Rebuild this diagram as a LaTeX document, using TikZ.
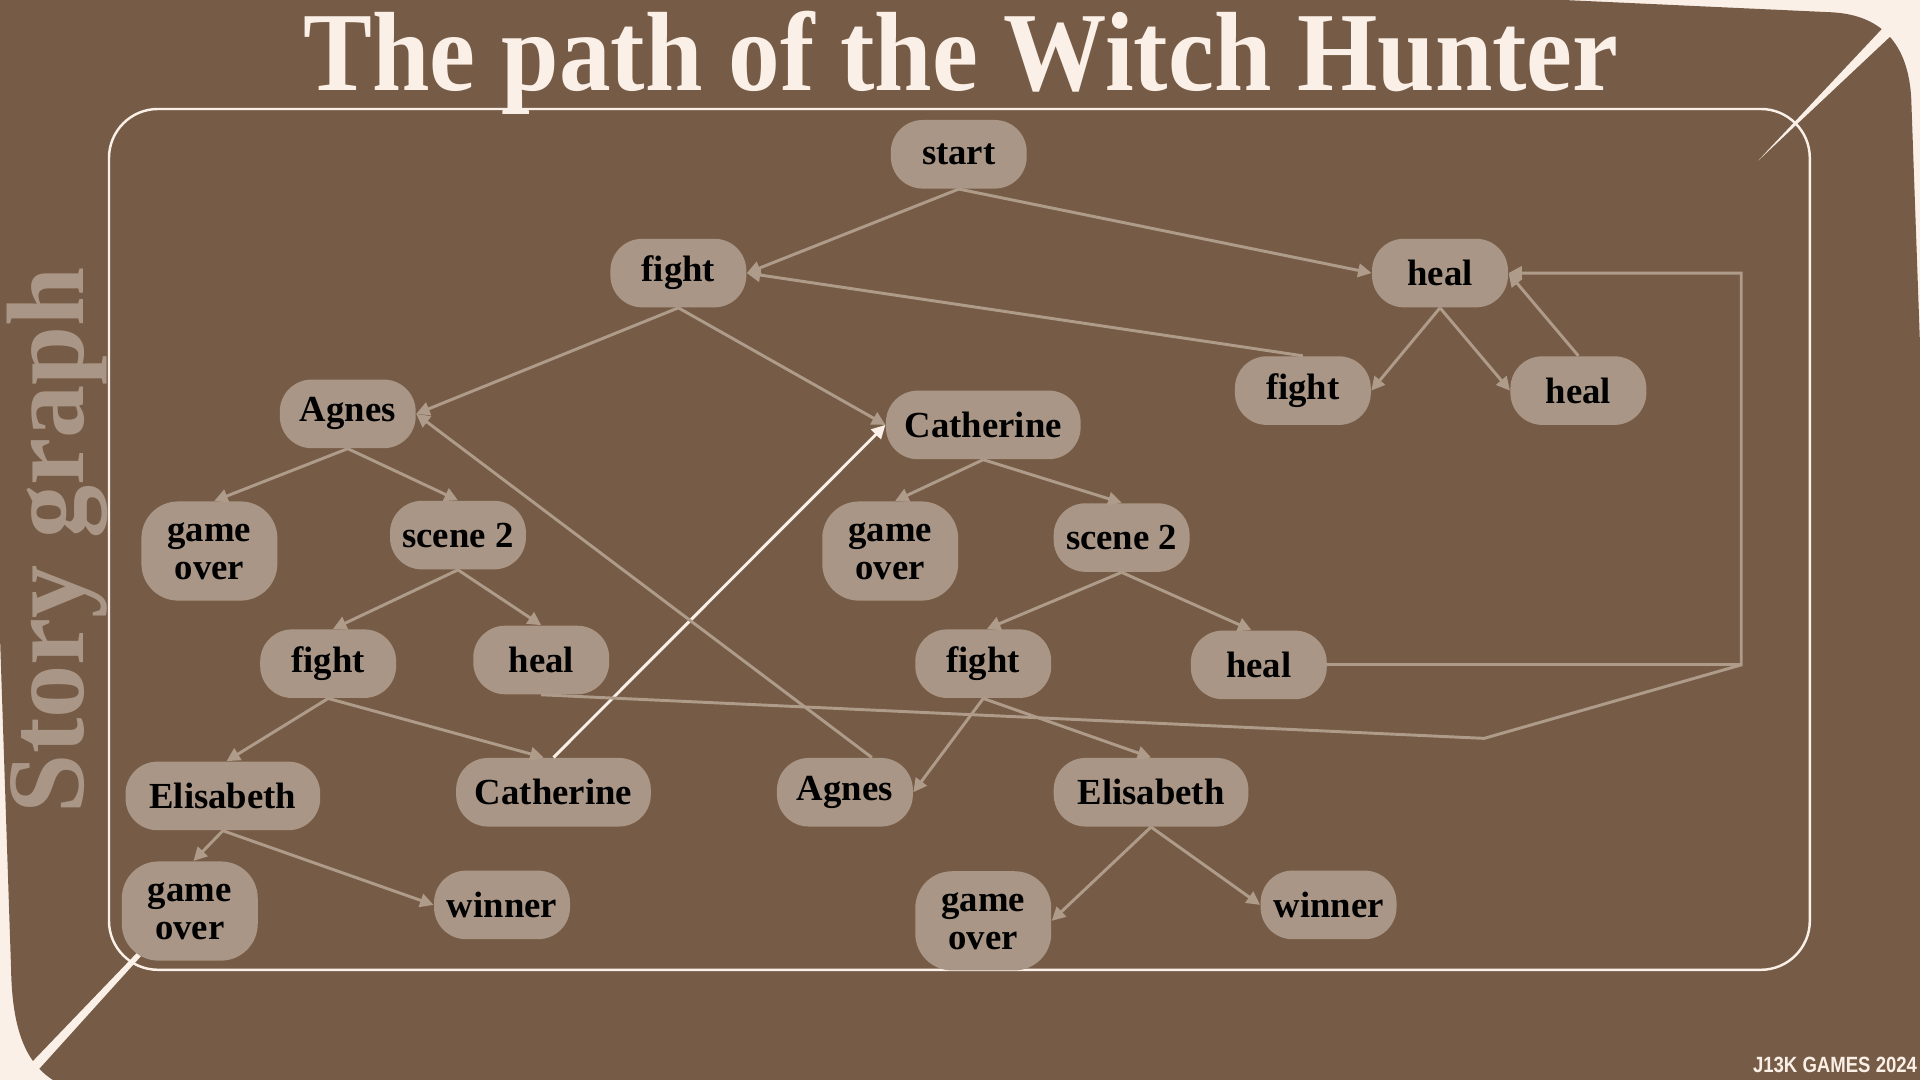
\documentclass[tikz,border=0pt]{standalone}
\usepackage{fontspec}
\setmainfont{Liberation Serif}
\newfontfamily\footfont{Liberation Sans}
\usetikzlibrary{arrows.meta,calc}
\definecolor{bgbrown}{HTML}{765C46}
\definecolor{cream}{HTML}{FBF0E8}
\definecolor{nodefill}{HTML}{A99686}
\definecolor{edgecol}{HTML}{AE9B8A}
\begin{document}
\begin{tikzpicture}[x=0.5pt,y=-0.5pt,
  box/.style={fill=nodefill, rounded corners=13pt, minimum width=55.5pt, minimum height=28pt,
    inner sep=0pt, font=\fontsize{15}{15.5}\selectfont\bfseries, text=black, align=center},
  wide/.style={minimum width=79.5pt},
  tall/.style={minimum height=40.5pt, rounded corners=15pt},
  plainline/.style={draw=edgecol, line width=1.2pt},
  edge/.style={plainline, -{Triangle[length=5.5pt,width=5.5pt]}},
  whiteedge/.style={draw=cream, line width=1.2pt, -{Triangle[length=5.5pt,width=5.5pt]}}
]
\useasboundingbox (0,0) rectangle (1568,882);
\clip (0,0) rectangle (1568,882);
% background
\fill[cream] (0,0) rectangle (1568,882);
\fill[bgbrown] (-30,-60) -- (1495,10) .. controls (1540,12) and (1560,40) .. (1561,85)
  -- (1590,900) -- (60,890) .. controls (25,878) and (10,850) .. (9,790)
  -- (0,520) -- (-20,-60) -- cycle;
% decorative stripes
\fill[cream] (1436,131) -- (1546.5,13.5) -- (1553.5,20.5) -- cycle;
\fill[cream] (112,778) -- (115,781) -- (21,885) -- (15,879) -- cycle;
% frame
\draw[cream, line width=1pt, rounded corners=20pt] (89,89) rectangle (1478,792);
% title and side texts
\node[text=cream, anchor=base, inner sep=0pt] (title) at (785,74)
  {\resizebox{537pt}{\height}{\fontsize{46}{47}\selectfont\bfseries The path of the Witch Hunter}};
\node[text=nodefill, anchor=base, rotate=90, inner sep=0pt] (side) at (68,441)
  {\resizebox{223pt}{\height}{\fontsize{45}{46}\selectfont\bfseries Story graph}};
\node[text=cream, anchor=base east, inner sep=0pt] (foot) at (1566,876)
  {\resizebox{67pt}{\height}{\footfont\fontsize{9}{9}\selectfont\bfseries J13K GAMES 2024}};
% nodes
\node[box] (start) at (783,126) {start};
\node[box] (fight1) at (554,223) {fight};
\node[box] (heal1) at (1176,223) {heal};
\node[box] (fight2) at (1064,319) {fight};
\node[box] (heal2) at (1289,319) {heal};
\node[box] (agnes1) at (284,338) {Agnes};
\node[box,wide] (cath1) at (803,347) {Catherine};
\node[box,tall] (go1) at (171,450) {game\\over};
\node[box] (scA) at (374,437) {scene 2};
\node[box,tall] (go2) at (727,450) {game\\over};
\node[box] (scB) at (916,439) {scene 2};
\node[box] (fightA) at (268,542) {fight};
\node[box] (healA) at (442,539) {heal};
\node[box] (fightB) at (803,542) {fight};
\node[box] (healB) at (1028,543) {heal};
\node[box,wide] (elisA) at (182,650) {Elisabeth};
\node[box,wide] (cathA) at (452,647) {Catherine};
\node[box] (agnesB) at (690,647) {Agnes};
\node[box,wide] (elisB) at (940,647) {Elisabeth};
\node[box,tall] (go3) at (155,744) {game\\over};
\node[box] (winA) at (410,739) {winner};
\node[box,tall] (go4) at (803,752) {game\\over};
\node[box] (winB) at (1085,739) {winner};
% connectors
\coordinate (k1) at (1212,603);
\coordinate (k2) at (1422,543);
\coordinate (k3) at (1422,223);
\draw[edge] (start.south) -- (fight1.east);
\draw[edge] (start.south) -- (heal1.west);
\draw[edge] (fight2.north) -- (fight1.east);
\draw[edge] (heal1.south) -- (fight2.east);
\draw[edge] (heal1.south) -- (heal2.west);
\draw[edge] (heal2.north) -- (heal1.east);
\draw[edge] (fight1.south) -- (agnes1.east);
\draw[edge] (fight1.south) -- (cath1.west);
\draw[edge] (agnes1.south) -- ($(go1.north)+(4,0)$);
\draw[edge] (agnes1.south) -- (scA.north);
\draw[edge] (cath1.south) -- ($(go2.north)+(4,0)$);
\draw[edge] (cath1.south) -- (scB.north);
\draw[edge] (scA.south) -- ($(fightA.north)+(4,0)$);
\draw[edge] (scA.south) -- (healA.north);
\draw[edge] (scB.south) -- ($(fightB.north)+(3,0)$);
\draw[edge] (scB.south) -- ($(healB.north)+(-6,0)$);
\draw[edge] (fightA.south) -- ($(elisA.north)+(3,0)$);
\draw[edge] (fightA.south) -- ($(cathA.north)+(-8,0)$);
\draw[whiteedge] (cathA.north) -- (cath1.west);
\draw[edge] ($(agnesB.north)+(22,0)$) -- (agnes1.east);
\draw[edge] (fightB.south) -- (agnesB.east);
\draw[edge] (fightB.south) -- (elisB.north);
\draw[edge] (healA.south) -- (k1) -- (k2) -- (k3) -- (heal1.east);
\draw[plainline] (healB.east) -- (k2);
\draw[edge] (elisA.south) -- ($(go3.north)+(3,0)$);
\draw[edge] (elisA.south) -- (winA.west);
\draw[edge] (elisB.south) -- (go4.east);
\draw[edge] (elisB.south) -- (winB.west);
\end{tikzpicture}
\end{document}
